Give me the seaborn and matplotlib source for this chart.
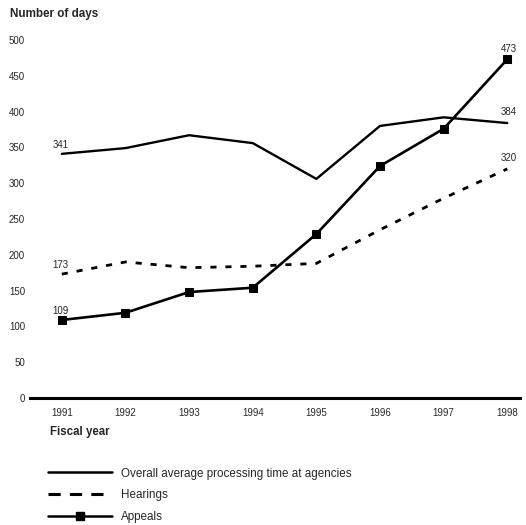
import pandas as pd
import seaborn as sns
import matplotlib.pyplot as plt
from matplotlib.lines import Line2D

# -------------------- Data --------------------
years = [1991, 1992, 1993, 1994, 1995, 1996, 1997, 1998]
overall = [341, 349, 367, 356, 306, 380, 392, 384]
hearings = [173, 190, 182, 184, 188, 235, 279, 320]
appeals = [109, 119, 148, 154, 229, 324, 376, 473]
y_ticks = [0, 50, 100, 150, 200, 250, 300, 350, 400, 450, 500]

df = pd.DataFrame({'year': years, 'overall': overall,
                   'hearings': hearings, 'appeals': appeals})

sns.set_style('white')
plt.rcParams['font.family'] = ['Liberation Sans', 'DejaVu Sans']

fig = plt.figure(figsize=(5.26, 5.25), dpi=100)
ax = fig.add_axes([30 / 526, 1 - 398 / 525, 490 / 526, 358 / 525])

# -------------------- Lines --------------------
sns.lineplot(data=df, x='year', y='overall', ax=ax, color='black', lw=1.7)
sns.lineplot(data=df, x='year', y='hearings', ax=ax, color='black', lw=2,
             dashes=False, linestyle=(0, (2.2, 3.2)))
sns.lineplot(data=df, x='year', y='appeals', ax=ax, color='black', lw=1.9,
             marker='s', markersize=6, markeredgecolor='black')

# end labels
for vals in (overall, hearings, appeals):
    ax.text(years[0] - 0.02, vals[0] + 6, str(vals[0]), fontsize=7, ha='center', va='bottom')
    ax.text(years[-1] + 0.02, vals[-1] + 8, str(vals[-1]), fontsize=7, ha='center', va='bottom')

# -------------------- Axes styling --------------------
ax.set_xlim(1990.5, 1998.2)
ax.set_ylim(0, 500)
ax.set_xticks(years)
ax.set_xticklabels([str(y) for y in years], fontsize=7)
ax.set_yticks(y_ticks)
ax.set_yticklabels([str(t) for t in y_ticks], fontsize=7)
ax.tick_params(axis='x', length=0, pad=7)
ax.tick_params(axis='y', length=0, pad=3.5)
for side in ['top', 'right', 'left']:
    ax.spines[side].set_visible(False)
ax.spines['bottom'].set_linewidth(2.2)
ax.spines['bottom'].set_color('black')
ax.set_xlabel('')
ax.set_ylabel('')

fig.text(10 / 526, 1 - 14 / 525, 'Number of days', fontsize=8.4, fontweight='bold', va='center')
fig.text(50 / 526, 1 - 432 / 525, 'Fiscal year', fontsize=8.3, fontweight='bold', va='center')

# -------------------- Legend --------------------
handles = [
    Line2D([], [], color='black', lw=1.8),
    Line2D([], [], color='black', lw=2.2, linestyle=(0, (4, 3))),
    Line2D([], [], color='black', lw=1.8, marker='s', markersize=6),
]
labels = ['Overall average processing time at agencies', 'Hearings', 'Appeals']
fig.legend(handles, labels, loc='upper left', bbox_to_anchor=(38 / 526, 1 - 457 / 525),
           frameon=False, fontsize=8.4, handlelength=5.4, handletextpad=0.85,
           labelspacing=0.85)

fig.savefig('out.png', dpi=100)
